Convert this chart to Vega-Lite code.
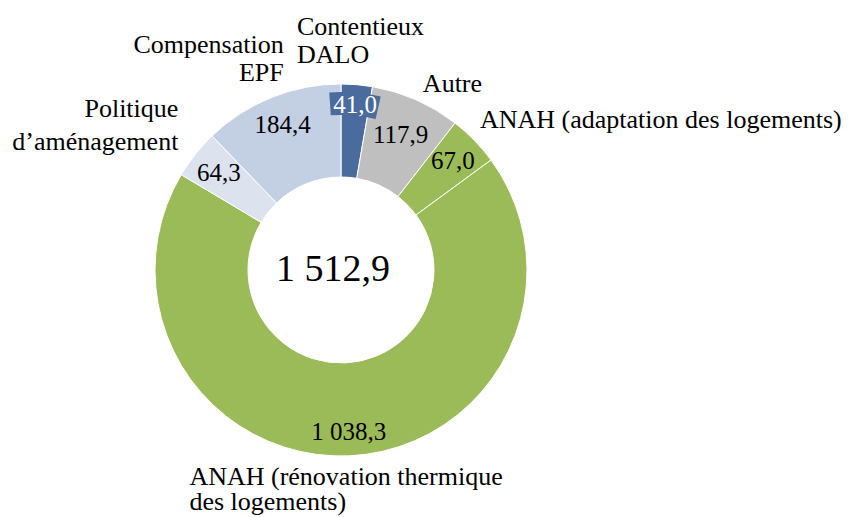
{
  "$schema": "https://vega.github.io/schema/vega-lite/v6.json",
  "width": 682,
  "height": 494,
  "autosize": {"type": "none"},
  "padding": {"left": 0, "top": 23, "right": 173, "bottom": 0},
  "background": "white",
  "config": {
    "view": {"stroke": null},
    "locale": {"number": {"decimal": ",", "thousands": " ", "grouping": [3], "currency": ["", " €"]}},
    "text": {"font": "Liberation Serif", "fill": "#000000"}
  },
  "data": {
    "values": [
      {"cat": "Contentieux DALO", "label": "Contentieux\nDALO", "value": 41.0, "order": 1},
      {"cat": "Autre", "label": "Autre", "value": 117.9, "order": 2},
      {"cat": "ANAH (adaptation des logements)", "label": "ANAH (adaptation des logements)", "value": 67.0, "order": 3},
      {"cat": "ANAH (rénovation thermique des logements)", "label": "ANAH (rénovation thermique\ndes logements)", "value": 1038.3, "order": 4},
      {"cat": "Politique d’aménagement", "label": "Politique\nd’aménagement", "value": 64.3, "order": 5},
      {"cat": "Compensation EPF", "label": "Compensation\nEPF", "value": 184.4, "order": 6}
    ]
  },
  "layer": [
    {
      "mark": {"type": "arc", "radius": 186, "radius2": 93, "stroke": "white", "strokeWidth": 1},
      "encoding": {
        "theta": {"field": "value", "type": "quantitative", "stack": true},
        "order": {"field": "order", "type": "quantitative"},
        "color": {
          "field": "cat", "type": "nominal", "legend": null,
          "scale": {
            "domain": ["Contentieux DALO", "Autre", "ANAH (adaptation des logements)", "ANAH (rénovation thermique des logements)", "Politique d’aménagement", "Compensation EPF"],
            "range": ["#4a6b9d", "#bfbfbf", "#9bbb59", "#9bbb59", "#dce3ee", "#c3cfe2"]
          }
        }
      }
    },
    {
      "transform": [
        {"stack": "value", "groupby": [], "sort": [{"field": "order", "order": "ascending"}], "as": ["v0", "v1"]},
        {"filter": "datum.order === 1"}
      ],
      "mark": {"type": "arc", "radius": 178, "radius2": 155, "thetaOffset": -0.066, "theta2Offset": 0.055, "fill": "#4a6b9d"},
      "encoding": {
        "theta": {"field": "v0", "type": "quantitative", "stack": null},
        "theta2": {"field": "v1"}
      }
    },
    {
      "mark": {"type": "text", "radius": 156, "fontSize": 25, "baseline": "middle", "align": "center"},
      "encoding": {
        "theta": {"field": "value", "type": "quantitative", "stack": true},
        "order": {"field": "order", "type": "quantitative"},
        "detail": {"field": "cat"},
        "text": {"condition": {"test": "datum.order === 3 || datum.order === 5 || datum.order === 6", "field": "value", "type": "quantitative", "format": ",.1f"}, "value": ""}
      }
    },
    {
      "mark": {"type": "text", "radius": 148, "fontSize": 25, "baseline": "middle", "align": "center"},
      "encoding": {
        "theta": {"field": "value", "type": "quantitative", "stack": true},
        "order": {"field": "order", "type": "quantitative"},
        "detail": {"field": "cat"},
        "text": {"condition": {"test": "datum.order === 2", "field": "value", "type": "quantitative", "format": ",.1f"}, "value": ""}
      }
    },
    {
      "mark": {"type": "text", "radius": 162, "fontSize": 25, "baseline": "middle", "align": "center"},
      "encoding": {
        "theta": {"field": "value", "type": "quantitative", "stack": true},
        "order": {"field": "order", "type": "quantitative"},
        "detail": {"field": "cat"},
        "text": {"condition": {"test": "datum.order === 4", "field": "value", "type": "quantitative", "format": ",.1f"}, "value": ""}
      }
    },
    {
      "mark": {"type": "text", "radius": 166, "fontSize": 25, "baseline": "middle", "align": "center", "fill": "white"},
      "encoding": {
        "theta": {"field": "value", "type": "quantitative", "stack": true},
        "order": {"field": "order", "type": "quantitative"},
        "detail": {"field": "cat"},
        "text": {"condition": {"test": "datum.order === 1", "field": "value", "type": "quantitative", "format": ",.1f"}, "value": ""}
      }
    },
    {
      "mark": {"type": "text", "radius": 229.6, "dx": -63.5, "dy": -14, "fontSize": 26, "baseline": "middle", "align": "left", "lineBreak": "\n", "lineHeight": 28},
      "encoding": {
        "theta": {"field": "value", "type": "quantitative", "stack": true},
        "order": {"field": "order", "type": "quantitative"},
        "detail": {"field": "cat"},
        "text": {"condition": {"test": "datum.order === 1", "field": "label", "type": "nominal"}, "value": ""}
      }
    },
    {
      "mark": {"type": "text", "radius": 203, "dx": 0, "fontSize": 26, "baseline": "middle", "align": "left", "lineBreak": "\n"},
      "encoding": {
        "theta": {"field": "value", "type": "quantitative", "stack": true},
        "order": {"field": "order", "type": "quantitative"},
        "detail": {"field": "cat"},
        "text": {"condition": {"test": "datum.order === 2", "field": "label", "type": "nominal"}, "value": ""}
      }
    },
    {
      "mark": {"type": "text", "radius": 214.8, "dx": -15, "fontSize": 26, "baseline": "middle", "align": "left", "lineBreak": "\n"},
      "encoding": {
        "theta": {"field": "value", "type": "quantitative", "stack": true},
        "order": {"field": "order", "type": "quantitative"},
        "detail": {"field": "cat"},
        "text": {"condition": {"test": "datum.order === 3", "field": "label", "type": "nominal"}, "value": ""}
      }
    },
    {
      "mark": {"type": "text", "radius": 220, "dx": -162, "dy": -13, "fontSize": 26, "baseline": "middle", "align": "left", "lineBreak": "\n", "lineHeight": 25},
      "encoding": {
        "theta": {"field": "value", "type": "quantitative", "stack": true},
        "order": {"field": "order", "type": "quantitative"},
        "detail": {"field": "cat"},
        "text": {"condition": {"test": "datum.order === 4", "field": "label", "type": "nominal"}, "value": ""}
      }
    },
    {
      "mark": {"type": "text", "radius": 232, "dx": 19, "dy": -17, "fontSize": 26, "baseline": "middle", "align": "right", "lineBreak": "\n", "lineHeight": 33},
      "encoding": {
        "theta": {"field": "value", "type": "quantitative", "stack": true},
        "order": {"field": "order", "type": "quantitative"},
        "detail": {"field": "cat"},
        "text": {"condition": {"test": "datum.order === 5", "field": "label", "type": "nominal"}, "value": ""}
      }
    },
    {
      "mark": {"type": "text", "radius": 228.3, "dx": 28, "dy": -13, "fontSize": 26, "baseline": "middle", "align": "right", "lineBreak": "\n", "lineHeight": 28},
      "encoding": {
        "theta": {"field": "value", "type": "quantitative", "stack": true},
        "order": {"field": "order", "type": "quantitative"},
        "detail": {"field": "cat"},
        "text": {"condition": {"test": "datum.order === 6", "field": "label", "type": "nominal"}, "value": ""}
      }
    },
    {
      "transform": [{"aggregate": [{"op": "sum", "field": "value", "as": "total"}]}],
      "mark": {"type": "text", "x": {"expr": "width/2"}, "y": {"expr": "height/2"}, "dx": -8, "fontSize": 38, "baseline": "middle", "align": "center"},
      "encoding": {
        "text": {"field": "total", "type": "quantitative", "format": ",.1f"}
      }
    }
  ]
}
